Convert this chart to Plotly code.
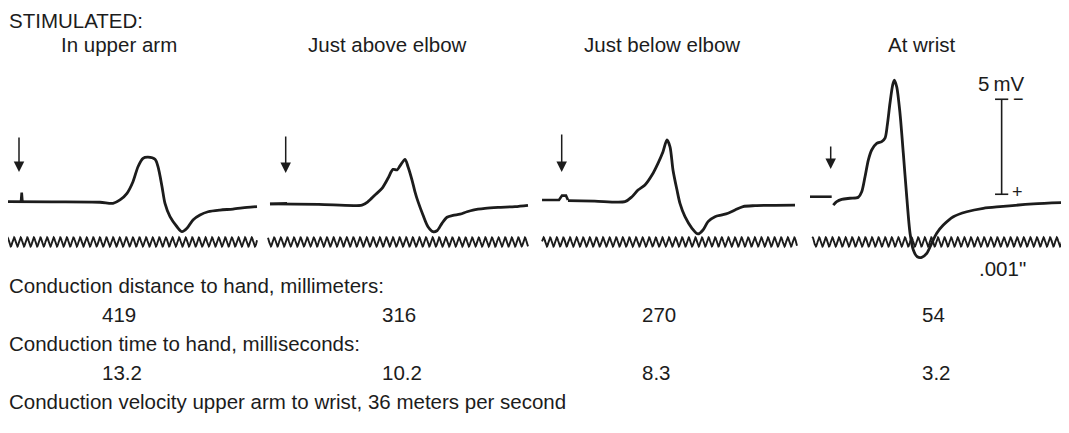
import numpy as np
import plotly.graph_objects as go

# ---- data ----
sites = ["In upper arm", "Just above elbow", "Just below elbow", "At wrist"]
distance_mm = ["419", "316", "270", "54"]
latency_ms = ["13.2", "10.2", "8.3", "3.2"]
velocity_line = "Conduction velocity upper arm to wrist, 36 meters per second"

# muscle action potentials: time after stimulus (ms) / deflection (mV)
t_upper = [-2.58, 5.0, 12.27, 14.24, 15.30, 16.36, 17.27, 18.03, 18.79, 19.55, 20.61, 21.06,
           21.67, 22.12, 22.88, 23.94, 24.70, 25.45, 26.36, 27.42, 28.64, 30.45, 32.42, 34.55, 36.06]
v_upper = [0.07, 0.06, 0.04, -0.02, 0.16, 0.51, 1.12, 1.91, 2.35, 2.41, 2.30, 1.91,
           0.86, -0.02, -0.72, -1.25, -1.51, -1.33, -0.89, -0.63, -0.46, -0.37, -0.32, -0.23, -0.19]

t_above = [-2.38, 5.0, 11.56, 12.47, 13.53, 14.59, 15.50, 16.26, 16.86, 17.32, 18.08, 18.53, 19.14,
           19.59, 20.05, 20.80, 21.56, 22.32, 22.92, 23.68, 24.44, 25.35, 26.41, 27.47, 28.38,
           30.20, 32.17, 34.74, 36.71]
v_above = [-0.05, -0.07, -0.11, 0.07, 0.42, 0.77, 1.30, 1.77, 1.74, 1.95, 2.30, 1.91, 1.21,
           0.59, 0.07, -0.63, -1.25, -1.51, -1.46, -1.07, -0.75, -0.65, -0.59, -0.46, -0.37,
           -0.28, -0.23, -0.19, -0.12]

t_below = [0.95, 5.0, 9.59, 10.65, 11.56, 12.62, 13.68, 14.59, 15.35, 15.95, 16.41, 16.86, 17.47,
           17.92, 18.68, 19.74, 20.65, 21.41, 22.17, 23.23, 24.29, 25.20, 26.26, 27.47, 29.29,
           32.32, 35.35]
v_below = [0.13, 0.10, 0.07, 0.33, 0.68, 0.95, 1.47, 2.09, 2.70, 3.32, 2.96, 1.74, 0.68,
           -0.02, -0.72, -1.33, -1.63, -1.42, -0.98, -0.72, -0.63, -0.54, -0.37, -0.19, -0.14,
           -0.12, -0.11]

t_wrist = [0.39, 0.91, 1.67, 2.92, 4.18, 4.70, 5.20, 5.70, 6.21, 6.97, 7.73, 8.23, 8.58, 8.98,
           9.39, 9.64, 10.00, 10.50, 11.00, 11.52, 12.02, 12.52, 13.12, 13.79, 14.55, 15.30,
           16.06, 17.06, 18.58, 20.61, 23.12, 25.65, 30.70, 35.24]
v_wrist = [-0.11, 0.07, 0.19, 0.25, 0.30, 0.59, 1.38, 2.26, 2.79, 3.14, 3.23, 3.41, 4.11, 5.25,
           6.21, 6.47, 6.12, 4.72, 2.62, 0.33, -1.59, -2.47, -2.83, -2.86, -2.65, -2.12,
           -1.59, -1.16, -0.72, -0.46, -0.28, -0.19, -0.05, 0.02]

# baseline before / at the stimulus (with shock artefact)
t_pre = [[0.30, 0.41, 0.52], [-2.38, 0.2], [-2.98, -0.41, 0.05, 0.65, 0.95], [-3.14, 0.15]]
v_pre = [[0.05, 0.55, 0.05], [-0.05, -0.02], [0.16, 0.16, 0.39, 0.39, 0.16], [0.33, 0.33]]

# stimulus arrows (mV level of tail and tip)
arrow_tail_mv = [3.53, 3.58, 3.68, 3.05]
arrow_tip_mv = [1.63, 1.58, 1.63, 1.79]

# 1 kHz timing sine (.001")
timer_period_ms = 1.0
timer_amp_mv = 0.24
timer_level_mv = -2.05
timer_start_ms = [-2.58, -2.68, -2.98, -2.83]
timer_end_ms = [36.06, 36.71, 35.65, 35.5]

# calibration bar
cal_mv = 5
cal_base_mv = 0.46
cal_t_ms = 25.9

# ---- layout geometry (reference pixel frame; page body keeps an 8px margin) ----
PAGE_W, PAGE_H = 1069, 433
BODY = 8
W, H = PAGE_W - BODY, PAGE_H - BODY
PX_PER_MS = 6.6
PX_PER_MV = 19.0
BASE_Y = 203
STIM_PX = [19, 285.7, 561.7, 830.7]
PANEL_PX = [(BODY, 263), (263, 535), (535, 805), (805, PAGE_W)]
INK = "#1c1c1c"
FONT = "Liberation Sans, Arial, sans-serif"
FS = 20.5

traces_t = [t_upper, t_above, t_below, t_wrist]
traces_v = [v_upper, v_above, v_below, v_wrist]

fig = go.Figure()

for i in range(4):
    xa = "x" if i == 0 else f"x{i + 1}"
    fig.add_trace(go.Scatter(x=traces_t[i], y=traces_v[i], xaxis=xa, yaxis="y", mode="lines",
                             line=dict(color=INK, width=2.8, shape="spline", smoothing=0.8),
                             hoverinfo="skip"))
    fig.add_trace(go.Scatter(x=t_pre[i], y=v_pre[i], xaxis=xa, yaxis="y", mode="lines",
                             line=dict(color=INK, width=2.6), hoverinfo="skip"))
    tt = np.linspace(timer_start_ms[i], timer_end_ms[i], 1400)
    fig.add_trace(go.Scatter(x=tt, y=timer_level_mv + timer_amp_mv * np.sin(2 * np.pi * tt / timer_period_ms),
                             xaxis=xa, yaxis="y", mode="lines",
                             line=dict(color=INK, width=1.9), hoverinfo="skip"))
    fig.add_annotation(x=0, y=arrow_tip_mv[i], ax=0, ay=arrow_tail_mv[i], xref=xa, yref="y",
                       axref=xa, ayref="y", text="", showarrow=True, arrowhead=2,
                       arrowsize=1.4, arrowwidth=1.5, arrowcolor=INK, standoff=0)

# calibration bar on the wrist panel
cap = 1.0
fig.add_trace(go.Scatter(
    x=[cal_t_ms - cap, cal_t_ms + cap, None, cal_t_ms, cal_t_ms, None, cal_t_ms - cap, cal_t_ms + cap],
    y=[cal_base_mv, cal_base_mv, None, cal_base_mv, cal_base_mv + cal_mv, None,
       cal_base_mv + cal_mv, cal_base_mv + cal_mv],
    xaxis="x4", yaxis="y", mode="lines", line=dict(color=INK, width=1.6), hoverinfo="skip"))

layout_axes = {}
for i in range(4):
    a, b = PANEL_PX[i]
    s = STIM_PX[i]
    name = "xaxis" if i == 0 else f"xaxis{i + 1}"
    layout_axes[name] = dict(domain=[(a - BODY) / W, (b - BODY) / W],
                             range=[(a - s) / PX_PER_MS, (b - s) / PX_PER_MS],
                             visible=False, anchor="y", fixedrange=True)
layout_axes["yaxis"] = dict(domain=[0, 1],
                            range=[-(PAGE_H - BASE_Y) / PX_PER_MV, (BASE_Y - BODY) / PX_PER_MV],
                            visible=False, fixedrange=True)

fig.update_layout(width=W, height=H, margin=dict(l=0, r=0, t=0, b=0), showlegend=False,
                  paper_bgcolor="white", plot_bgcolor="white",
                  font=dict(family=FONT, size=FS, color=INK), **layout_axes)


def px(x):
    return (x - BODY) / W


def py(y):
    return 1 - (y - BODY) / H


def label(x, y, text, anchor="left", ya="middle"):
    fig.add_annotation(x=px(x), y=py(y), xref="paper", yref="paper", text=text, showarrow=False,
                       xanchor=anchor, yanchor=ya, borderpad=0)


# top row sits as high as the page allows
label(BODY, BODY, "STIMULATED:", ya="top")
title_cx = [119, 387, 662, 922]
num_lx = [101, 381, 641, 921]
for i in range(4):
    label(title_cx[i], 45, sites[i], anchor="center")
    label(num_lx[i], 314, distance_mm[i])
    label(num_lx[i], 372, latency_ms[i])
label(BODY, 285, "Conduction distance to hand, millimeters:")
label(BODY, 343, "Conduction time to hand, milliseconds:")
label(BODY, 401, velocity_line)

# calibration labels in wrist-panel data coordinates
fig.add_annotation(x=cal_t_ms, y=cal_base_mv + cal_mv + 0.85, xref="x4", yref="y", text="5\u2009mV",
                   showarrow=False, xanchor="center", yanchor="middle", borderpad=0)
fig.add_annotation(x=cal_t_ms + 2.6, y=cal_base_mv + cal_mv + 0.02, xref="x4", yref="y", text="\u2212",
                   showarrow=False, xanchor="center", yanchor="middle", borderpad=0,
                   font=dict(size=18))
fig.add_annotation(x=cal_t_ms + 2.4, y=cal_base_mv + 0.1, xref="x4", yref="y", text="+",
                   showarrow=False, xanchor="center", yanchor="middle", borderpad=0,
                   font=dict(size=18))
fig.add_annotation(x=cal_t_ms + 0.2, y=timer_level_mv - 1.4, xref="x4", yref="y", text=".001\"",
                   showarrow=False, xanchor="center", yanchor="middle", borderpad=0)

fig.write_html("out.html")
